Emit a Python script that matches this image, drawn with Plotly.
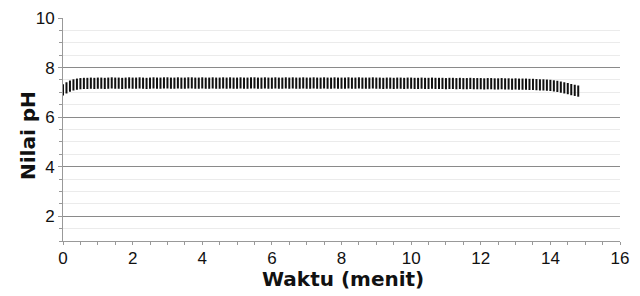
import plotly.graph_objects as go

# Time (minutes)
waktu = [round(i * 0.1, 1) for i in range(149)]
# pH values
ph = [
    7.10, 7.18, 7.25, 7.30, 7.33, 7.35, 7.36, 7.36, 7.37, 7.36,
    7.37, 7.37, 7.36, 7.37, 7.38, 7.37, 7.37, 7.36, 7.37, 7.38,
    7.37, 7.37, 7.38, 7.37, 7.36, 7.37, 7.38, 7.37, 7.37, 7.38,
    7.38, 7.37, 7.37, 7.38, 7.37, 7.37, 7.38, 7.38, 7.37, 7.37,
    7.38, 7.37, 7.37, 7.38, 7.37, 7.37, 7.38, 7.37, 7.38, 7.37,
    7.37, 7.38, 7.37, 7.37, 7.38, 7.38, 7.37, 7.37, 7.38, 7.37,
    7.37, 7.38, 7.37, 7.37, 7.38, 7.37, 7.38, 7.37, 7.37, 7.38,
    7.37, 7.37, 7.38, 7.37, 7.37, 7.38, 7.37, 7.37, 7.38, 7.37,
    7.37, 7.37, 7.38, 7.37, 7.37, 7.38, 7.37, 7.37, 7.37, 7.38,
    7.37, 7.37, 7.36, 7.37, 7.37, 7.36, 7.37, 7.37, 7.36, 7.37,
    7.37, 7.36, 7.36, 7.37, 7.36, 7.36, 7.37, 7.36, 7.36, 7.36,
    7.35, 7.36, 7.36, 7.35, 7.36, 7.35, 7.35, 7.36, 7.35, 7.35,
    7.35, 7.34, 7.35, 7.35, 7.34, 7.34, 7.35, 7.34, 7.34, 7.33,
    7.34, 7.33, 7.33, 7.33, 7.32, 7.32, 7.31, 7.30, 7.30, 7.29,
    7.28, 7.26, 7.24, 7.21, 7.18, 7.15, 7.11, 7.08, 7.05,
]

x_ticks = [0, 2, 4, 6, 8, 10, 12, 14, 16]
y_ticks = [2, 4, 6, 8, 10]
x_title = "<b>Waktu (menit)</b>"
y_title = "<b>Nilai pH</b>"

fig = go.Figure()
fig.add_trace(go.Scatter(
    x=waktu, y=ph, mode="markers",
    marker=dict(symbol="line-ns", size=8, color="#111111",
                line=dict(color="#111111", width=2)),
    showlegend=False,
))

tick_font = dict(family="Liberation Sans, Arial, sans-serif", size=17, color="#111111")
title_font = dict(family="DejaVu Sans, Verdana, sans-serif", size=20, color="#111111")

fig.update_layout(
    width=632, height=288,
    margin=dict(l=55, r=20, t=10, b=55, autoexpand=False),
    paper_bgcolor="white", plot_bgcolor="white",
    xaxis=dict(
        range=[0, 16], tickvals=x_ticks, ticktext=[str(v) for v in x_ticks],
        automargin=False,
        showgrid=False, zeroline=False,
        showline=True, linecolor="#999999", linewidth=1,
        ticks="outside", ticklen=2, tickcolor="#999999",
        minor=dict(dtick=0.5, ticks="outside", ticklen=3, tickcolor="#999999", showgrid=False),
        tickfont=tick_font,
    ),
    yaxis=dict(
        range=[1, 10], tickvals=y_ticks, ticktext=[str(v) for v in y_ticks],
        automargin=False,
        showgrid=True, gridcolor="#8a8a8a", gridwidth=1, zeroline=False,
        showline=True, linecolor="#999999", linewidth=1,
        ticks="outside", ticklen=4, tickcolor="#999999",
        minor=dict(dtick=0.5, tick0=0, ticks="outside", ticklen=3, tickcolor="#999999",
                   showgrid=True, gridcolor="#ebebeb", gridwidth=1),
        tickfont=tick_font,
    ),
    annotations=[
        dict(text=x_title, xref="paper", yref="paper", x=0.503, y=-0.172,
             xanchor="center", yanchor="middle", showarrow=False, font=title_font),
        dict(text=y_title, xref="paper", yref="paper", x=-0.063, y=0.475,
             xanchor="center", yanchor="middle", textangle=-90, showarrow=False,
             font=title_font),
    ],
)

fig.write_html("out.html")
